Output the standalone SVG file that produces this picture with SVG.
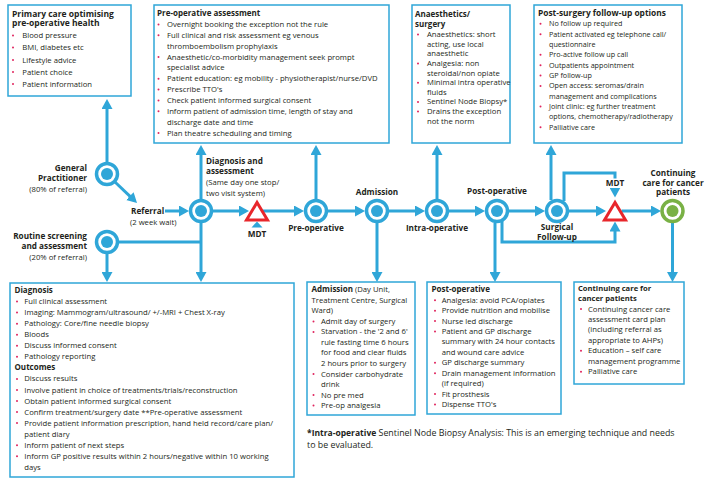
<svg xmlns="http://www.w3.org/2000/svg" width="713" height="487" viewBox="0 0 713 487">
<defs>
<marker id="ah" viewBox="0 0 10 11" refX="6.5" refY="5.5" markerWidth="10" markerHeight="11" markerUnits="userSpaceOnUse" orient="auto"><path d="M0,0 L10,5.5 L0,11 z" fill="#2fa6d8"/></marker>
</defs>
<style>
.ln{fill:none;stroke:#2fa6d8;stroke-width:3}
.ar{marker-end:url(#ah)}
.bx{fill:#fff;stroke:#2fa6d8;stroke-width:1.5}
.ring{fill:#fff;stroke:#2fa6d8;stroke-width:3.5}
.dot{fill:#2fa6d8}
.gring{fill:#fff;stroke:#79b145;stroke-width:3.5}
.gdot{fill:#79b145}
.mdt{fill:#fff;stroke:#e8262b;stroke-width:3}
text{font-family:"Open Sans","Liberation Sans",sans-serif;font-size:7.7px;fill:#231f20}
.h{font-weight:bold;font-size:8px}
.nl{font-weight:bold;font-size:8.2px}
.c{text-anchor:middle}
.e{text-anchor:end}
.b{fill:#e0245e}
.s{font-size:7.2px}
</style>
<rect width="713" height="487" fill="#fff"/>

<g id="connectors">
<line class="ln ar" x1="107" y1="162" x2="107" y2="102.5"/>
<line class="ln ar" x1="115" y1="182" x2="134.5" y2="200.6"/>
<line class="ln ar" x1="165" y1="211" x2="185.5" y2="211"/>
<line class="ln ar" x1="201" y1="199" x2="201" y2="148.5"/>
<line class="ln ar" x1="201" y1="223" x2="201" y2="278.5"/>
<line class="ln" x1="119" y1="242" x2="201" y2="242"/>
<line class="ln ar" x1="107" y1="254" x2="107" y2="278.5"/>
<line class="ln ar" x1="213" y1="211" x2="245.5" y2="211"/>
<polygon points="251.5,227.5 262.5,227.5 257,221.5" fill="#2fa6d8"/>
<line class="ln ar" x1="263" y1="211" x2="300.5" y2="211"/>
<line class="ln ar" x1="316" y1="199" x2="316" y2="148.5"/>
<line class="ln ar" x1="328" y1="211" x2="361.5" y2="211"/>
<line class="ln ar" x1="377" y1="223" x2="377" y2="278.5"/>
<line class="ln ar" x1="389" y1="211" x2="421.5" y2="211"/>
<line class="ln ar" x1="437" y1="199" x2="437" y2="148.5"/>
<line class="ln ar" x1="449" y1="211" x2="481.5" y2="211"/>
<line class="ln ar" x1="495" y1="223" x2="495" y2="278.5"/>
<path class="ln ar" d="M502,221 V242 H615 V225"/>
<line class="ln ar" x1="509" y1="211" x2="541.5" y2="211"/>
<line class="ln ar" x1="551" y1="200" x2="551" y2="148.5"/>
<path class="ln" d="M564,201 V173 H615 V178.5"/>
<line class="ln ar" x1="615" y1="188" x2="615" y2="194"/>
<line class="ln ar" x1="569" y1="211" x2="602.5" y2="211"/>
<line class="ln ar" x1="621.5" y1="211" x2="657.5" y2="211"/>
<line class="ln ar" x1="672.5" y1="223" x2="672.5" y2="278.5"/>
</g>

<g id="primary-care">
<rect class="bx" x="8" y="5" width="123" height="91"/>
<text class="h" x="12" y="16.5" style="font-size:8.5px">Primary care optimising</text>
<text class="h" x="12" y="26" style="font-size:8.5px">pre-operative health</text>
<circle class="b" cx="13" cy="35.5" r="1"/><text x="22.3" y="38">Blood pressure</text>
<circle class="b" cx="13" cy="47.5" r="1"/><text x="22.3" y="50">BMI, diabetes etc</text>
<circle class="b" cx="13" cy="60" r="1"/><text x="22.3" y="62.5">Lifestyle advice</text>
<circle class="b" cx="13" cy="72" r="1"/><text x="22.3" y="74.5">Patient choice</text>
<circle class="b" cx="13" cy="84" r="1"/><text x="22.3" y="86.5">Patient information</text>
</g>

<g id="pre-op-assessment">
<rect class="bx" x="154" y="5" width="235" height="138"/>
<text class="h" x="157" y="16">Pre-operative assessment</text>
<circle class="b" cx="158.5" cy="24.5" r="1"/><text x="167" y="27">Overnight booking the exception not the rule</text>
<circle class="b" cx="158.5" cy="35.3" r="1"/><text x="167" y="37.8">Full clinical and risk assessment eg venous</text>
<text x="167" y="48.7">thromboembolism prophylaxis</text>
<circle class="b" cx="158.5" cy="57" r="1"/><text x="167" y="59.5">Anaesthetic/co-morbidity management seek prompt</text>
<text x="167" y="70.4">specialist advice</text>
<circle class="b" cx="158.5" cy="78.7" r="1"/><text x="167" y="81.2">Patient education: eg mobility - physiotherapist/nurse/DVD</text>
<circle class="b" cx="158.5" cy="89.6" r="1"/><text x="167" y="92.1">Prescribe TTO's</text>
<circle class="b" cx="158.5" cy="100.4" r="1"/><text x="167" y="102.9">Check patient informed surgical consent</text>
<circle class="b" cx="158.5" cy="111.3" r="1"/><text x="167" y="113.8">Inform patient of admission time, length of stay and</text>
<text x="167" y="124.6">discharge date and time</text>
<circle class="b" cx="158.5" cy="133" r="1"/><text x="167" y="135.5">Plan theatre scheduling and timing</text>
</g>

<g id="anaesthetics">
<rect class="bx" x="412" y="5" width="98" height="138"/>
<text class="h" x="415" y="17">Anaesthetics/</text>
<text class="h" x="415" y="27">surgery</text>
<circle class="b" cx="418" cy="34.5" r="1"/><text x="427" y="37">Anaesthetics: short</text>
<text x="427" y="46.6">acting, use local</text>
<text x="427" y="56.3">anaesthetic</text>
<circle class="b" cx="418" cy="63.4" r="1"/><text x="427" y="65.9">Analgesia: non</text>
<text x="427" y="75.5">steroidal/non opiate</text>
<circle class="b" cx="418" cy="82.7" r="1"/><text x="427" y="85.2">Minimal intra operative</text>
<text x="427" y="94.8">fluids</text>
<circle class="b" cx="418" cy="101.9" r="1"/><text x="427" y="104.4">Sentinel Node Biopsy*</text>
<circle class="b" cx="418" cy="111.5" r="1"/><text x="427" y="114">Drains the exception</text>
<text x="427" y="123.7">not the norm</text>
</g>

<g id="post-surgery-follow-up">
<rect class="bx" x="534" y="5" width="148" height="138"/>
<text class="h" x="538" y="16" style="font-size:8.4px">Post-surgery follow-up options</text>
<circle class="b" cx="540.5" cy="23.8" r="1"/><text class="s" x="549" y="26.3">No follow up required</text>
<circle class="b" cx="540.5" cy="34.2" r="1"/><text class="s" x="549" y="36.7">Patient activated eg telephone call/</text>
<text class="s" x="549" y="47">questionnaire</text>
<circle class="b" cx="540.5" cy="54.8" r="1"/><text class="s" x="549" y="57.3">Pro-active follow up call</text>
<circle class="b" cx="540.5" cy="65.2" r="1"/><text class="s" x="549" y="67.7">Outpatients appointment</text>
<circle class="b" cx="540.5" cy="75.5" r="1"/><text class="s" x="549" y="78">GP follow-up</text>
<circle class="b" cx="540.5" cy="85.9" r="1"/><text class="s" x="549" y="88.4">Open access: seromas/drain</text>
<text class="s" x="549" y="98.7">management and complications</text>
<circle class="b" cx="540.5" cy="106.5" r="1"/><text class="s" x="549" y="109">Joint clinic: eg further treatment</text>
<text class="s" x="549" y="119.4">options, chemotherapy/radiotherapy</text>
<circle class="b" cx="540.5" cy="127.2" r="1"/><text class="s" x="549" y="129.7">Palliative care</text>
</g>

<g id="general-practitioner">
<circle class="ring" cx="107" cy="174" r="10.5"/><circle class="dot" cx="107" cy="174" r="6"/>
<text class="nl e" x="87" y="170.5">General</text>
<text class="nl e" x="87" y="180.5">Practitioner</text>
<text class="e" x="87" y="192">(80% of referral)</text>
</g>

<g id="routine-screening">
<circle class="ring" cx="107" cy="242" r="10.5"/><circle class="dot" cx="107" cy="242" r="6"/>
<text class="nl e" x="87" y="239">Routine screening</text>
<text class="nl e" x="87" y="248.7">and assessment</text>
<text class="e" x="87" y="259.5">(20% of referral)</text>
</g>

<g id="referral">
<text class="nl" x="131" y="214">Referral</text>
<text x="130" y="225">(2 week wait)</text>
</g>

<g id="diagnosis-assessment">
<circle class="ring" cx="201" cy="211" r="10.5"/><circle class="dot" cx="201" cy="211" r="6"/>
<text class="nl" x="206" y="164">Diagnosis and</text>
<text class="nl" x="206" y="174">assessment</text>
<text x="206" y="185.3">(Same day one stop/</text>
<text x="206" y="195.7">two visit system)</text>
</g>

<g id="mdt-1">
<polygon class="mdt" points="257,202.5 246.5,220 267.5,220"/>
<text class="nl c" x="257" y="237">MDT</text>
</g>

<g id="pre-operative">
<circle class="ring" cx="316" cy="211" r="10.5"/><circle class="dot" cx="316" cy="211" r="6"/>
<text class="nl c" x="316" y="231">Pre-operative</text>
</g>

<g id="admission">
<circle class="ring" cx="377" cy="211" r="10.5"/><circle class="dot" cx="377" cy="211" r="6"/>
<text class="nl c" x="377" y="195">Admission</text>
</g>

<g id="intra-operative">
<circle class="ring" cx="437" cy="211" r="10.5"/><circle class="dot" cx="437" cy="211" r="6"/>
<text class="nl c" x="437" y="231">Intra-operative</text>
</g>

<g id="post-operative">
<circle class="ring" cx="497" cy="211" r="10.5"/><circle class="dot" cx="497" cy="211" r="6"/>
<text class="nl c" x="497" y="194">Post-operative</text>
</g>

<g id="surgical-follow-up">
<circle class="ring" cx="557" cy="211" r="10.5"/><circle class="dot" cx="557" cy="211" r="6"/>
<text class="nl c" x="557" y="230">Surgical</text>
<text class="nl c" x="557" y="240">Follow-up</text>
</g>

<g id="mdt-2">
<polygon class="mdt" points="615,202.5 604.5,220 625.5,220"/>
<text class="nl c" x="615" y="185.5">MDT</text>
</g>

<g id="continuing-care-node">
<circle class="gring" cx="672.5" cy="211" r="10.5"/><circle class="gdot" cx="672.5" cy="211" r="6"/>
<text class="nl c" x="673" y="175.7">Continuing</text>
<text class="nl c" x="673" y="185.7">care for cancer</text>
<text class="nl c" x="673" y="195.3">patients</text>
</g>

<g id="diagnosis-box">
<rect class="bx" x="10" y="283" width="284" height="194"/>
<text class="h" x="14.5" y="293">Diagnosis</text>
<circle class="b" cx="17" cy="301.6" r="1"/><text x="24.3" y="304.1">Full clinical assessment</text>
<circle class="b" cx="17" cy="312.6" r="1"/><text x="24.3" y="315.1">Imaging: Mammogram/ultrasound/ +/-MRI + Chest X-ray</text>
<circle class="b" cx="17" cy="323.7" r="1"/><text x="24.3" y="326.2">Pathology: Core/fine needle biopsy</text>
<circle class="b" cx="17" cy="334.7" r="1"/><text x="24.3" y="337.2">Bloods</text>
<circle class="b" cx="17" cy="345.8" r="1"/><text x="24.3" y="348.3">Discuss informed consent</text>
<circle class="b" cx="17" cy="356.8" r="1"/><text x="24.3" y="359.3">Pathology reporting</text>
<text class="h" x="14.5" y="370.4">Outcomes</text>
<circle class="b" cx="17" cy="378.9" r="1"/><text x="24.3" y="381.4">Discuss results</text>
<circle class="b" cx="17" cy="390" r="1"/><text x="24.3" y="392.5">Involve patient in choice of treatments/trials/reconstruction</text>
<circle class="b" cx="17" cy="401" r="1"/><text x="24.3" y="403.5">Obtain patient informed surgical consent</text>
<circle class="b" cx="17" cy="412.1" r="1"/><text x="24.3" y="414.6">Confirm treatment/surgery date **Pre-operative assessment</text>
<circle class="b" cx="17" cy="423.1" r="1"/><text x="24.3" y="425.6">Provide patient information prescription, hand held record/care plan/</text>
<text x="24.3" y="436.7">patient diary</text>
<circle class="b" cx="17" cy="445.2" r="1"/><text x="24.3" y="447.7">Inform patient of next steps</text>
<circle class="b" cx="17" cy="456.3" r="1"/><text x="24.3" y="458.8">Inform GP positive results within 2 hours/negative within 10 working</text>
<text x="24.3" y="469.8">days</text>
</g>

<g id="admission-box">
<rect class="bx" x="307" y="282" width="108" height="133"/>
<text x="311.5" y="292.3"><tspan class="h">Admission</tspan> (Day Unit,</text>
<text x="311.5" y="302.8">Treatment Centre, Surgical</text>
<text x="311.5" y="313.3">Ward)</text>
<circle class="b" cx="313.5" cy="321.4" r="1"/><text x="321" y="323.9">Admit day of surgery</text>
<circle class="b" cx="313.5" cy="331.9" r="1"/><text x="321" y="334.4">Starvation - the '2 and 6'</text>
<text x="321" y="344.9">rule fasting time 6 hours</text>
<text x="321" y="355.4">for food and clear fluids</text>
<text x="321" y="366">2 hours prior to surgery</text>
<circle class="b" cx="313.5" cy="374" r="1"/><text x="321" y="376.5">Consider carbohydrate</text>
<text x="321" y="387">drink</text>
<circle class="b" cx="313.5" cy="395" r="1"/><text x="321" y="397.5">No pre med</text>
<circle class="b" cx="313.5" cy="405.5" r="1"/><text x="321" y="408">Pre-op analgesia</text>
</g>

<g id="post-operative-box">
<rect class="bx" x="427" y="282" width="134" height="132"/>
<text class="h" x="431.5" y="292.3">Post-operative</text>
<circle class="b" cx="435" cy="300.2" r="1"/><text x="441.7" y="302.7">Analgesia: avoid PCA/opiates</text>
<circle class="b" cx="435" cy="310.7" r="1"/><text x="441.7" y="313.2">Provide nutrition and mobilise</text>
<circle class="b" cx="435" cy="321.1" r="1"/><text x="441.7" y="323.6">Nurse led discharge</text>
<circle class="b" cx="435" cy="331.5" r="1"/><text x="441.7" y="334">Patient and GP discharge</text>
<text x="441.7" y="344.4">summary with 24 hour contacts</text>
<text x="441.7" y="354.9">and wound care advice</text>
<circle class="b" cx="435" cy="362.8" r="1"/><text x="441.7" y="365.3">GP discharge summary</text>
<circle class="b" cx="435" cy="373.2" r="1"/><text x="441.7" y="375.7">Drain management information</text>
<text x="441.7" y="386.2">(if required)</text>
<circle class="b" cx="435" cy="394.1" r="1"/><text x="441.7" y="396.6">Fit prosthesis</text>
<circle class="b" cx="435" cy="404.5" r="1"/><text x="441.7" y="407">Dispense TTO's</text>
</g>

<g id="continuing-care-box">
<rect class="bx" x="574" y="282" width="110" height="102"/>
<text class="h" x="578" y="290.8" style="font-size:7.6px">Continuing care for</text>
<text class="h" x="578" y="301.2" style="font-size:7.6px">cancer patients</text>
<circle class="b" cx="581" cy="309" r="1"/><text x="588" y="311.5">Continuing cancer care</text>
<text x="588" y="321.9">assessment card plan</text>
<text x="588" y="332.4">(including referral as</text>
<text x="588" y="342.8">appropriate to AHPs)</text>
<circle class="b" cx="581" cy="350.8" r="1"/><text x="588" y="353.3">Education – self care</text>
<text x="588" y="363.7">management programme</text>
<circle class="b" cx="581" cy="371.7" r="1"/><text x="588" y="374.2">Palliative care</text>
</g>

<g id="footnote">
<text x="307" y="436" style="font-size:8.85px"><tspan font-weight="bold" style="font-size:8.5px">*Intra-operative</tspan>  Sentinel Node Biopsy Analysis: This is an emerging technique and needs</text>
<text x="307" y="448" style="font-size:8.85px">to be  evaluated.</text>
</g>
</svg>
